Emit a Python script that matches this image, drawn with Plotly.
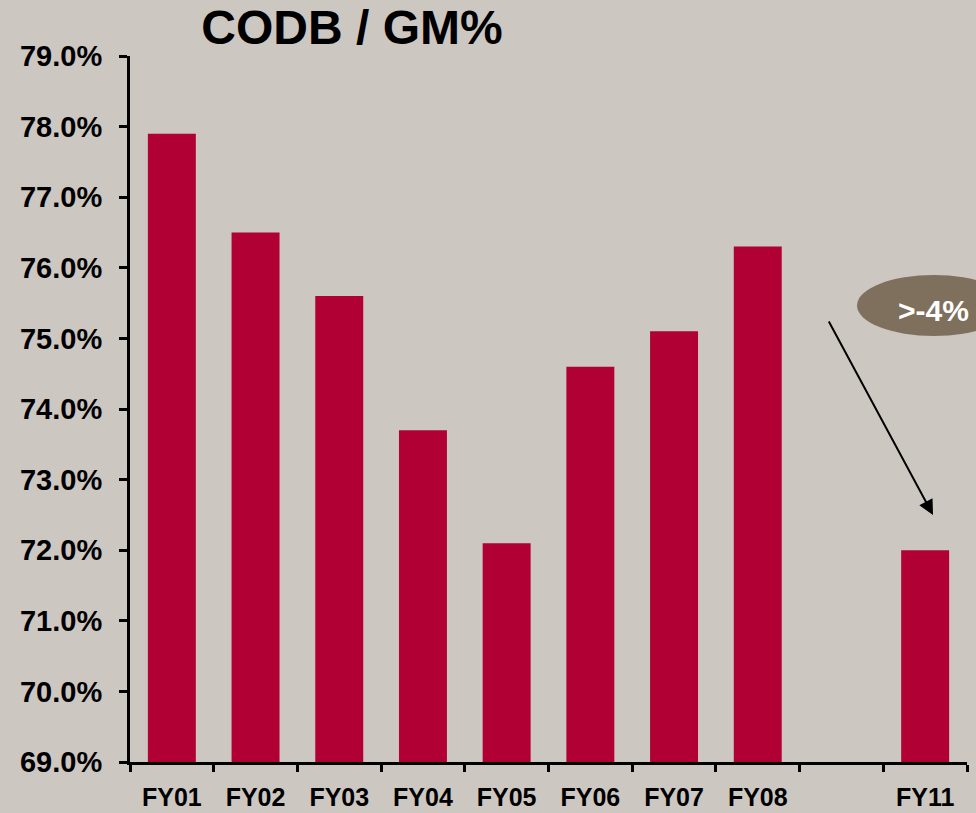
import plotly.graph_objects as go

categories = ["FY01", "FY02", "FY03", "FY04", "FY05", "FY06", "FY07", "FY08", " ", "FY11"]
values = [77.9, 76.5, 75.6, 73.7, 72.1, 74.6, 75.1, 76.3, None, 72.0]
y_ticks = [69, 70, 71, 72, 73, 74, 75, 76, 77, 78, 79]

BG = "#cdc7c1"
BAR = "#b00034"
FONT = "Arial, Liberation Sans, sans-serif"

fig = go.Figure(go.Bar(x=categories, y=values, marker=dict(color=BAR, line=dict(width=0)),
                       hoverinfo="skip"))

fig.update_layout(
    width=976, height=813,
    margin=dict(l=130, r=9, t=56, b=51),
    paper_bgcolor=BG, plot_bgcolor=BG,
    bargap=0.427,
    showlegend=False,
    font=dict(family=FONT, color="black"),
    title=dict(text="<b>CODB / GM%</b>", font=dict(size=48, family=FONT, color="black"),
               x=352 / 976, xanchor="center", xref="container",
               y=1 - 27 / 813, yanchor="middle", yref="container"),
)

fig.update_xaxes(
    type="category", categoryorder="array", categoryarray=categories,
    showline=True, linewidth=3, linecolor="black",
    ticks="outside", ticklen=7, tickwidth=3, tickcolor="black",
    tickson="boundaries",
    ticklabelstandoff=11, automargin=False,
    tickfont=dict(size=25, family=FONT, color="black", weight="bold"),
    showgrid=False, zeroline=False, fixedrange=True,
)
fig.update_yaxes(
    range=[69, 79], tickvals=y_ticks,
    ticktext=[f"{v:.1f}%" for v in y_ticks],
    showline=True, linewidth=3, linecolor="black",
    ticks="outside", ticklen=8, tickwidth=3, tickcolor="black",
    ticklabelstandoff=11, automargin=False,
    tickfont=dict(size=29, family=FONT, color="black", weight="bold"),
    showgrid=False, zeroline=False, fixedrange=True,
)

# Callout ellipse and arrow
fig.add_shape(type="circle", xref="paper", yref="paper",
              x0=0.8686, x1=1.052, y0=0.6034, y1=0.6898,
              fillcolor="#7f705d", line=dict(width=0), layer="above")
fig.add_annotation(xref="paper", yref="paper", x=0.9594, y=0.640,
                   text="<b>>-4%</b>", showarrow=False,
                   font=dict(size=30, color="white", family=FONT),
                   xanchor="center", yanchor="middle")
fig.add_annotation(xref="paper", yref="paper", x=0.9594, y=0.3499,
                   ax=-105, ay=-195, text="", showarrow=True,
                   arrowhead=2, arrowsize=1.5, arrowwidth=2, arrowcolor="black")

fig.write_html("out.html")
